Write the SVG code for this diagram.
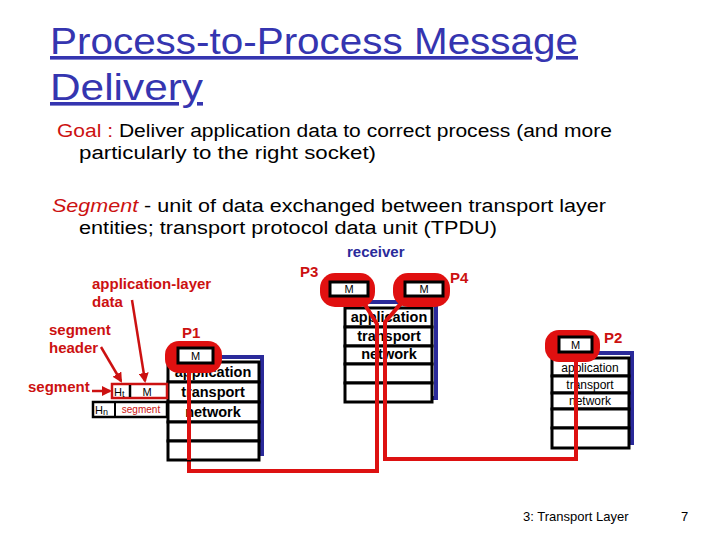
<svg xmlns="http://www.w3.org/2000/svg" width="720" height="540" viewBox="0 0 720 540">
<defs>
<style>
text{font-family:"Liberation Sans",Arial,sans-serif}
.title{font-size:36px;fill:#3535b0;text-decoration:underline}
.body{font-size:18px;fill:#000}
.red{fill:#cc1111}
.lbl{font-size:15px;fill:#cc1111;font-weight:bold}
.row{fill:#fff;stroke:#000;stroke-width:3}
.shadow{fill:none;stroke:#2a2a9a;stroke-width:4}
.st{font-size:14.5px;font-weight:bold;text-anchor:middle;fill:#000}
.st2{font-size:12px;text-anchor:middle;fill:#000}
.blob{fill:#e01010}
.mbox{fill:#fff;stroke:#000;stroke-width:3}
.m{font-size:11px;text-anchor:middle;fill:#000}
.wire{fill:none;stroke:#dd1111;stroke-width:4}
.arr{fill:none;stroke:#cc1111;stroke-width:2.5}
</style>
<marker id="ah" viewBox="0 0 10 10" refX="8" refY="5" markerWidth="4" markerHeight="4" orient="auto"><path d="M0,0 L10,5 L0,10 z" fill="#cc1111"/></marker>
</defs>
<rect width="720" height="540" fill="#fff"/>

<g id="title">
<text class="title" x="50" y="54" textLength="528" lengthAdjust="spacingAndGlyphs">Process-to-Process Message</text>
<text class="title" x="50" y="100" textLength="153" lengthAdjust="spacingAndGlyphs">Delivery</text>
</g>

<g id="text-body">
<text class="body" x="57" y="137" textLength="555" lengthAdjust="spacingAndGlyphs"><tspan class="red">Goal : </tspan>Deliver application data to correct process (and more</text>
<text class="body" x="79" y="159" textLength="297" lengthAdjust="spacingAndGlyphs">particularly to the right socket)</text>
<text class="body" x="52" y="212" textLength="554" lengthAdjust="spacingAndGlyphs"><tspan class="red" font-style="italic">Segment</tspan> - unit of  data exchanged between transport layer</text>
<text class="body" x="79" y="234" textLength="418" lengthAdjust="spacingAndGlyphs">entities; transport protocol data unit (TPDU)</text>
</g>

<g id="connectors">
<path class="wire" d="M189,362 L189,471 L377,471 L377,324 L362,300"/>
<path class="wire" d="M576,352 L576,459 L385,459 L385,322 L404,300"/>
<line class="arr" x1="92" y1="391" x2="110" y2="391" marker-end="url(#ah)"/>
<line class="arr" x1="101" y1="347" x2="121" y2="381" marker-end="url(#ah)"/>
<line class="arr" x1="132" y1="300" x2="145" y2="381" marker-end="url(#ah)"/>
</g>

<g id="sender-stack">
<rect class="shadow" x="174" y="357" width="88" height="97"/>
<rect class="row" x="168" y="362" width="91" height="20"/>
<rect class="row" x="168" y="382" width="91" height="20"/>
<rect class="row" x="168" y="402" width="91" height="20"/>
<rect class="row" x="168" y="422" width="91" height="19"/>
<rect class="row" x="168" y="441" width="91" height="19"/>
<text class="st" x="213" y="377">application</text>
<text class="st" x="213" y="397">transport</text>
<text class="st" x="213" y="417">network</text>
</g>

<g id="receiver-stack">
<rect class="shadow" x="351" y="302" width="85" height="96"/>
<rect class="row" x="345" y="308" width="87" height="19"/>
<rect class="row" x="345" y="327" width="87" height="19"/>
<rect class="row" x="345" y="346" width="87" height="18"/>
<rect class="row" x="345" y="364" width="87" height="19"/>
<rect class="row" x="345" y="383" width="87" height="19"/>
<text class="st" x="389" y="322">application</text>
<text class="st" x="389" y="341">transport</text>
<text class="st" x="389" y="359">network</text>
</g>

<g id="p2-stack">
<rect class="shadow" x="558" y="353" width="74" height="90"/>
<rect class="row" x="552" y="358" width="77" height="18"/>
<rect class="row" x="552" y="376" width="77" height="17"/>
<rect class="row" x="552" y="393" width="77" height="16"/>
<rect class="row" x="552" y="409" width="77" height="19"/>
<rect class="row" x="552" y="428" width="77" height="20"/>
<text class="st2" x="590" y="372">application</text>
<text class="st2" x="590" y="389">transport</text>
<text class="st2" x="590" y="405">network</text>
</g>

<g id="wires-over">
<line class="wire" x1="189" y1="362" x2="189" y2="460"/>
<path class="wire" d="M377,410 L377,324 L362,300"/>
<path class="wire" d="M385,410 L385,322 L404,300"/>
<line class="wire" x1="576" y1="352" x2="576" y2="450"/>
</g>

<g id="P1">
<rect class="blob" x="165" y="341" width="57" height="32" rx="14"/>
<rect class="mbox" x="178" y="348" width="35" height="15"/>
<text class="m" x="195.5" y="360">M</text>
<text class="lbl" x="182" y="338" font-size="16">P1</text>
</g>

<g id="P3">
<rect class="blob" x="320" y="273" width="55" height="34" rx="15"/>
<rect class="mbox" x="330" y="282" width="38" height="14"/>
<text class="m" x="349" y="293">M</text>
<text class="lbl" x="300" y="277" font-size="16">P3</text>
</g>

<g id="P4">
<rect class="blob" x="393" y="273" width="57" height="34" rx="15"/>
<rect class="mbox" x="405" y="282" width="38" height="14"/>
<text class="m" x="424" y="293">M</text>
<text class="lbl" x="450" y="283" font-size="16">P4</text>
</g>

<g id="receiver-label">
<text x="347" y="257" font-size="15" fill="#2a2a9a" font-weight="bold">receiver</text>
</g>

<g id="P2">
<rect class="blob" x="545" y="330" width="55" height="32" rx="14"/>
<rect class="mbox" x="559" y="337" width="33" height="15"/>
<text class="m" x="575.5" y="349">M</text>
<text class="lbl" x="604" y="343" font-size="16">P2</text>
</g>

<g id="segment-labels">
<text class="lbl" x="92" y="289" font-size="14">application-layer</text>
<text class="lbl" x="92" y="307" font-size="14">data</text>
<text class="lbl" x="49" y="335" font-size="14">segment</text>
<text class="lbl" x="49" y="353" font-size="14">header</text>
<text class="lbl" x="28" y="392" font-size="14">segment</text>
</g>

<g id="segment">
<rect x="112" y="384" width="55" height="14" fill="#fff" stroke="#cc1111" stroke-width="2.5"/>
<line x1="130" y1="385" x2="130" y2="397" stroke="#000" stroke-width="2.5"/>
<text x="114" y="396" font-size="11" fill="#000">H<tspan font-size="9" dy="1">t</tspan></text>
<text class="m" x="147" y="396">M</text>
</g>

<g id="packet">
<rect x="93" y="402" width="74" height="15" fill="#fff" stroke="#000" stroke-width="2.5"/>
<line x1="115" y1="402" x2="115" y2="417" stroke="#000" stroke-width="2"/>
<text x="95" y="414" font-size="11" fill="#000">H<tspan font-size="9" dy="1">n</tspan></text>
<text x="141" y="413" font-size="10" fill="#cc1111" text-anchor="middle">segment</text>
</g>

<g id="footer">
<text x="523" y="521" font-size="13" fill="#000">3: Transport Layer</text>
<text x="681" y="521" font-size="13" fill="#000">7</text>
</g>
</svg>
